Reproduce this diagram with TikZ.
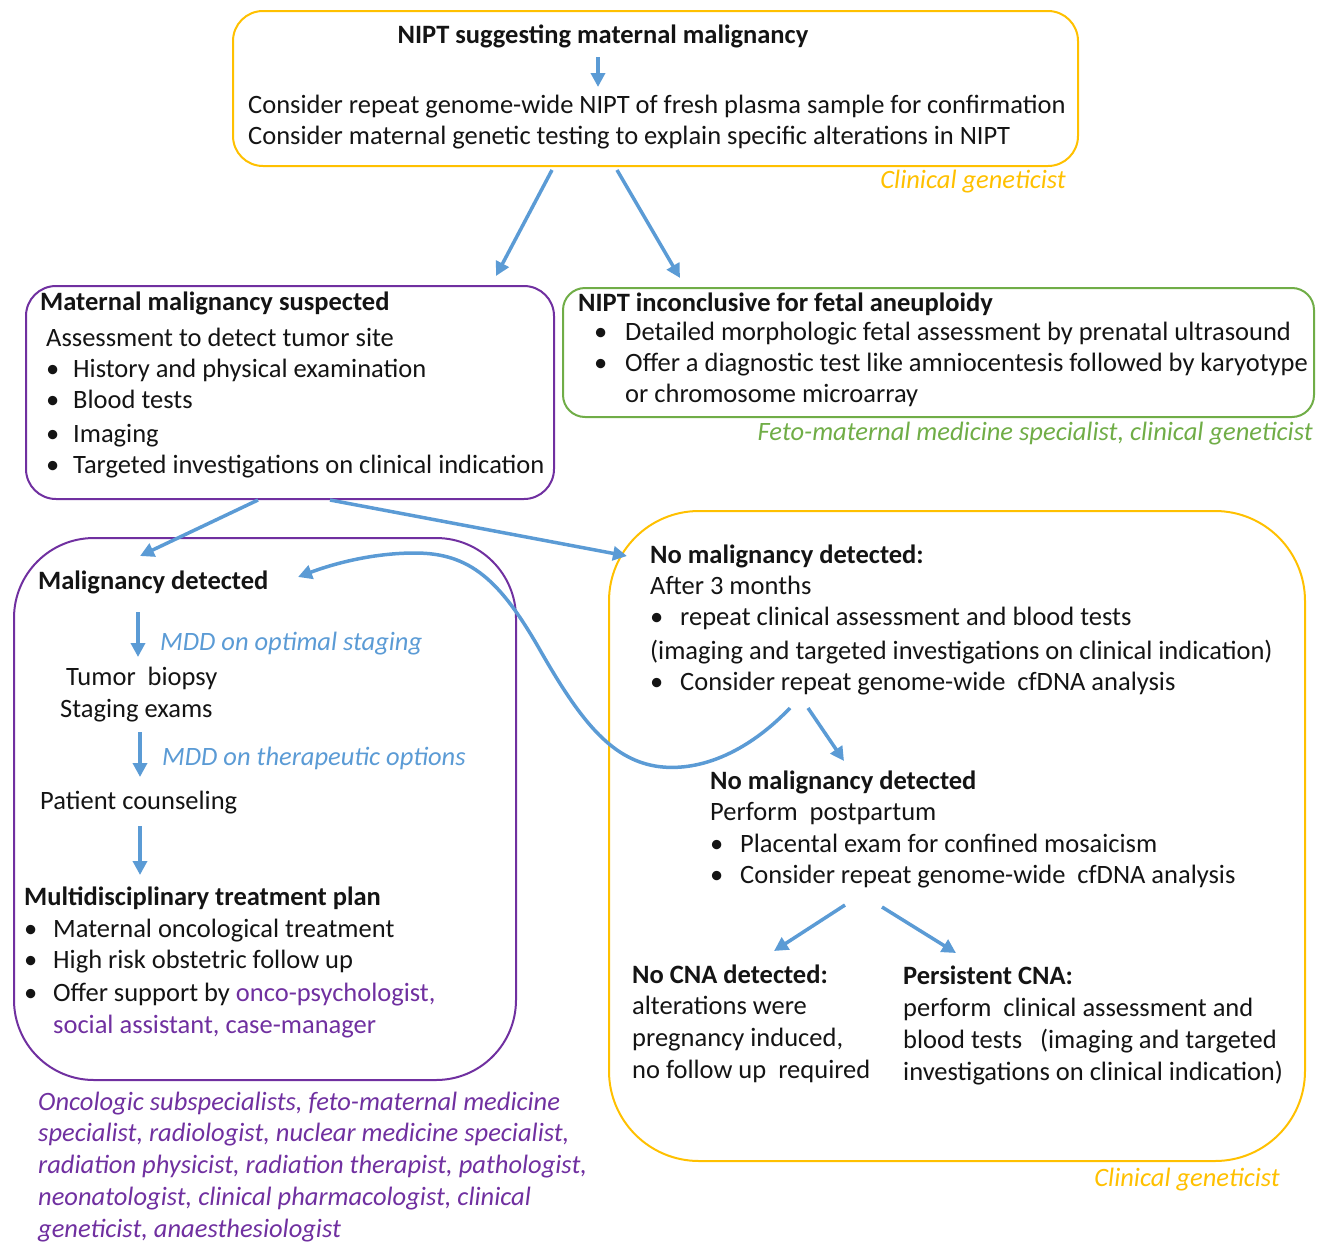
\documentclass[tikz,border=0pt]{standalone}
\usepackage{fontspec}
\setmainfont{Carlito}
\usetikzlibrary{arrows.meta}
\definecolor{cgold}{RGB}{255,192,0}
\definecolor{cpurple}{RGB}{112,48,160}
\definecolor{cgreen}{RGB}{112,173,71}
\definecolor{cblue}{RGB}{91,155,213}
\definecolor{ctext}{RGB}{20,20,20}
\newcommand{\flowfont}{\fontsize{26.5}{31}\selectfont}

\begin{document}
\begin{tikzpicture}[x=1pt, y=-1pt,
  panel/.style={draw=#1, line width=2pt, anchor=north west, inner sep=0pt},
  txt/.style={anchor=west, inner sep=0pt, font=\flowfont, text=ctext,
    text height=22pt, text depth=5pt},
  head/.style={txt, font=\flowfont\bfseries},
  mdd/.style={txt, font=\flowfont\itshape, text=cblue},
  role/.style={txt, anchor=east, font=\flowfont\itshape, text=#1},
  flow/.style={draw=cblue, line width=3.5pt, -{Triangle[length=14pt,width=14pt]}}
]
\useasboundingbox (0,0) rectangle (1325,1242);
% NIPT result (top): gold panel
\node[panel=cgold, rounded corners=30pt, minimum width=845pt, minimum height=155pt]
  (nipt) at (232,10) {};
\node[head, anchor=center] (niptHead) at (603,35) {NIPT suggesting maternal malignancy};
\node[txt] (niptL1) at (248,105) {Consider repeat genome-wide NIPT of fresh plasma sample for confirmation};
\node[txt] (niptL2) at (248,136) {Consider maternal genetic testing to explain specific alterations in NIPT};
\node[role=cgold] (niptRole) at (1066,180) {Clinical geneticist};
\coordinate (n0) at (598,57);
\coordinate (n1) at (598,87);
\draw[flow] (n0) -- (n1);

% Suspected (left) and inconclusive (right)
\node[panel=cpurple, rounded corners=30pt, minimum width=528pt, minimum height=213pt]
  (susp) at (25,285) {};
\node[head] (suspHead) at (40,302) {Maternal malignancy suspected};
\node[txt] (suspSub) at (46,338) {Assessment to detect tumor site};
\foreach \y/\t [count=\i] in {369/History and physical examination, 400/Blood tests,
    434/Imaging, 465/Targeted investigations on clinical indication} {
  \node[txt] (suspB\i) at (46,\y) {•};
  \node[txt] (suspT\i) at (73,\y) {\t};
}
\node[panel=cgreen, rounded corners=22pt, minimum width=751pt, minimum height=129pt]
  (incon) at (562,287) {};
\node[head] (inconHead) at (578,303) {NIPT inconclusive for fetal aneuploidy};
\foreach \y/\t [count=\i] in {332/Detailed morphologic fetal assessment by prenatal ultrasound,
    363/Offer a diagnostic test like amniocentesis followed by karyotype} {
  \node[txt] (inconB\i) at (594,\y) {•};
  \node[txt] (inconT\i) at (625,\y) {\t};
}
\node[txt] (inconT3) at (625,394) {or chromosome microarray};
\node[role=cgreen] (inconRole) at (1313,432) {Feto-maternal medicine specialist, clinical geneticist};
\coordinate (a0) at (552,170);
\coordinate (a1) at (496,276);
\coordinate (b0) at (617,170);
\coordinate (b1) at (680,278);
\draw[flow] (a0) -- (a1);
\draw[flow] (b0) -- (b1);

% Malignancy detected (bottom left): purple panel
\node[panel=cpurple, rounded corners=80pt, minimum width=502pt, minimum height=542pt]
  (malig) at (13,537) {};
\node[head] (maligHead) at (38,581) {Malignancy detected};
\node[mdd] (mdd1) at (160,642) {MDD on optimal staging};
\node[txt] (biopsy) at (66,677) {Tumor\ \ biopsy};
\node[txt] (staging) at (60,709) {Staging exams};
\node[mdd] (mdd2) at (162,757) {MDD on therapeutic options};
\node[txt] (counsel) at (40,801) {Patient counseling};
\node[head] (planHead) at (24,897) {Multidisciplinary treatment plan};
\foreach \y/\t [count=\i] in {929/Maternal oncological treatment, 960/High risk obstetric follow up} {
  \node[txt] (planB\i) at (24,\y) {•};
  \node[txt] (planT\i) at (53,\y) {\t};
}
\node[txt] (planB3) at (24,993) {•};
\node[txt] (planT3) at (53,993) {Offer support by \textcolor{cpurple}{onco-psychologist,}};
\node[txt, text=cpurple] (planT4) at (53,1025) {social assistant, case-manager};
\foreach \y/\t [count=\i] in {1102/Oncologic subspecialists{,} feto-maternal medicine,
    1133/specialist{,} radiologist{,} nuclear medicine specialist{,},
    1165/radiation\ physicist{,} radiation\ therapist{,} pathologist{,},
    1197/neonatologist{,} clinical pharmacologist{,} clinical,
    1229/geneticist{,} anaesthesiologist} {
  \node[txt, font=\flowfont\itshape, text=cpurple] (team\i) at (38,\y) {\t};
}
\coordinate (m0) at (138,612);  \coordinate (m1) at (138,657);
\coordinate (m2) at (140,732);  \coordinate (m3) at (140,777);
\coordinate (m4) at (140,826);  \coordinate (m5) at (140,875);
\draw[flow] (m0) -- (m1);
\draw[flow] (m2) -- (m3);
\draw[flow] (m4) -- (m5);

% No malignancy (bottom right): gold panel
\node[panel=cgold, rounded corners=90pt, minimum width=696pt, minimum height=650pt]
  (nomal) at (608,510) {};
\node[head] (nomalHead) at (650,555) {No malignancy detected:};
\node[txt] (after) at (650,586) {After 3 months};
\node[txt] (nomalB1) at (650,617) {•};
\node[txt] (nomalT1) at (680,617) {repeat clinical assessment and blood tests};
\node[txt] (nomalT2) at (650,651) {(imaging and targeted investigations on clinical indication)};
\node[txt] (nomalB3) at (650,682) {•};
\node[txt] (nomalT3) at (680,682) {Consider repeat genome-wide\ \ cfDNA analysis};
\node[head] (postHead) at (710,781) {No malignancy detected};
\node[txt] (post) at (710,812) {Perform\ \ postpartum};
\foreach \y/\t [count=\i] in {844/Placental exam for confined mosaicism,
    875/Consider repeat genome-wide\ \ cfDNA analysis} {
  \node[txt] (postB\i) at (710,\y) {•};
  \node[txt] (postT\i) at (740,\y) {\t};
}
\node[head] (nocnaHead) at (632,975) {No CNA detected:};
\foreach \y/\t [count=\i] in {1006/alterations were, 1038/pregnancy induced{,},
    1070/no follow up\ \ required} {
  \node[txt] (nocna\i) at (632,\y) {\t};
}
\node[head] (cnaHead) at (903,976) {Persistent CNA:};
\foreach \y/\t [count=\i] in {1008/perform\ \ clinical assessment and,
    1040/blood tests\ \ \ (imaging and targeted,
    1072/investigations on clinical indication)} {
  \node[txt] (cna\i) at (903,\y) {\t};
}
\node[role=cgold] (nomalRole) at (1280,1178) {Clinical geneticist};

% connectors out of the suspected panel and inside the gold panel
\coordinate (s0) at (258,500);  \coordinate (s1) at (140,556);
\coordinate (s2) at (330,500);  \coordinate (s3) at (627,556);
\draw[flow] (s0) -- (s1);
\draw[flow] (s2) -- (s3);
\coordinate (r0) at (808,708);  \coordinate (r1) at (844,761);
\draw[flow] (r0) -- (r1);
\coordinate (c0) at (845,905);  \coordinate (c1) at (774,951);
\coordinate (c2) at (882,907);  \coordinate (c3) at (956,953);
\draw[flow] (c0) -- (c1);
\draw[flow] (c2) -- (c3);
% loop back to malignancy detected
\coordinate (k0) at (790,708);
\coordinate (k1) at (298,577);
\draw[flow] (k0) .. controls (740,760) and (690,772) .. (655,766)
  .. controls (610,758) and (580,720) .. (540,650)
  .. controls (500,580) and (470,553) .. (415,553)
  .. controls (370,553) and (330,565) .. (k1);
\end{tikzpicture}
\end{document}
